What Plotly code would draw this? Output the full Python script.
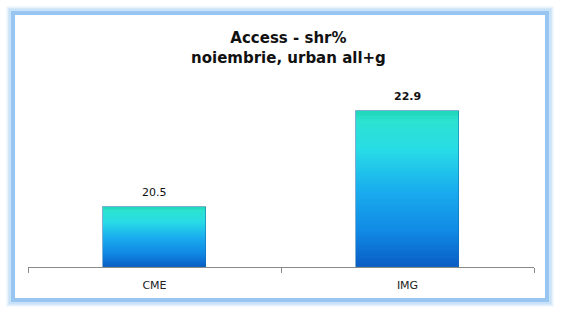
import plotly.graph_objects as go

categories = ["CME", "IMG"]
values = [20.5, 22.9]
label_bold = [False, True]
title_lines = ["Access - shr%", "noiembrie, urban all+g"]

W, H = 568, 318
ML, MR, MT, MB = 28, 34, 67, 51
Y0, Y1 = 19, 24
FONT = "DejaVu Sans"

stops = [(0.0, (30, 214, 184)), (0.06, (44, 226, 208)), (0.25, (40, 220, 230)),
         (0.5, (26, 174, 238)), (0.78, (16, 136, 228)), (1.0, (10, 92, 196))]

def grad(t):
    for (a, ca), (b, cb) in zip(stops[:-1], stops[1:]):
        if a <= t <= b:
            f = (t - a) / (b - a) if b > a else 0
            c = [round(ca[i] + (cb[i] - ca[i]) * f) for i in range(3)]
            return "rgb(%d,%d,%d)" % tuple(c)
    return "rgb(%d,%d,%d)" % stops[-1][1]

fig = go.Figure()
N = 60
for i in range(N):
    t = (i + 0.5) / N
    bases = [Y0 + (v - Y0) * (1 - (i + 1) / N) for v in values]
    hts = [(v - Y0) / N for v in values]
    fig.add_trace(go.Bar(x=categories, y=hts, base=bases, width=0.405,
                         marker=dict(color=grad(t), line=dict(width=0)),
                         showlegend=False, hoverinfo="skip"))

# outline of bars
fig.add_trace(go.Bar(x=categories, y=[v - Y0 for v in values], base=[Y0] * 2, width=0.405,
                     marker=dict(color="rgba(0,0,0,0)", line=dict(color="rgba(20,110,170,0.55)", width=1)),
                     showlegend=False, hoverinfo="skip"))

pw = W - ML - MR
ph = H - MT - MB
def px(x):
    return (x - ML) / pw
def py(y):
    return (H - MB - y) / ph

shapes = []
for d, wdt, col in [(5, 3, "rgba(190,220,248,0.35)"), (3, 3, "rgba(170,210,245,0.6)"), (0, 4, "rgb(152,198,240)")]:
    shapes.append(dict(type="rect", xref="paper", yref="paper",
                       x0=px(13 - d), x1=px(547 + d), y0=py(13 - d), y1=py(300 + d),
                       line=dict(color=col, width=wdt), fillcolor="rgba(0,0,0,0)", layer="below"))

annotations = [dict(xref="paper", yref="paper", x=px(288), y=py(48),
                    text="<b>%s<br>%s</b>" % tuple(title_lines), showarrow=False,
                    font=dict(family=FONT, size=15, color="#111"),
                    xanchor="center", yanchor="middle", align="center")]
for c, v, b in zip(categories, values, label_bold):
    annotations.append(dict(x=c, y=v, xref="x", yref="y", showarrow=False,
                            text=("<b>%.1f</b>" if b else "%.1f") % v,
                            yanchor="bottom", yshift=6,
                            font=dict(family=FONT, size=11, color="#111")))

fig.update_layout(
    width=W, height=H,
    margin=dict(l=ML, r=MR, t=MT, b=MB),
    paper_bgcolor="white", plot_bgcolor="white",
    barmode="overlay", bargap=0,
    shapes=shapes,
    annotations=annotations,
    xaxis=dict(showline=True, linecolor="#8a8a8a", linewidth=1, ticks="outside",
               tickson="boundaries", ticklen=5, tickcolor="#8a8a8a", showgrid=False,
               ticklabelstandoff=8,
               tickfont=dict(family=FONT, size=11, color="#222"),
               fixedrange=True),
    yaxis=dict(range=[Y0, Y1], visible=False, showgrid=False, fixedrange=True),
)

fig.write_html("out.html")
